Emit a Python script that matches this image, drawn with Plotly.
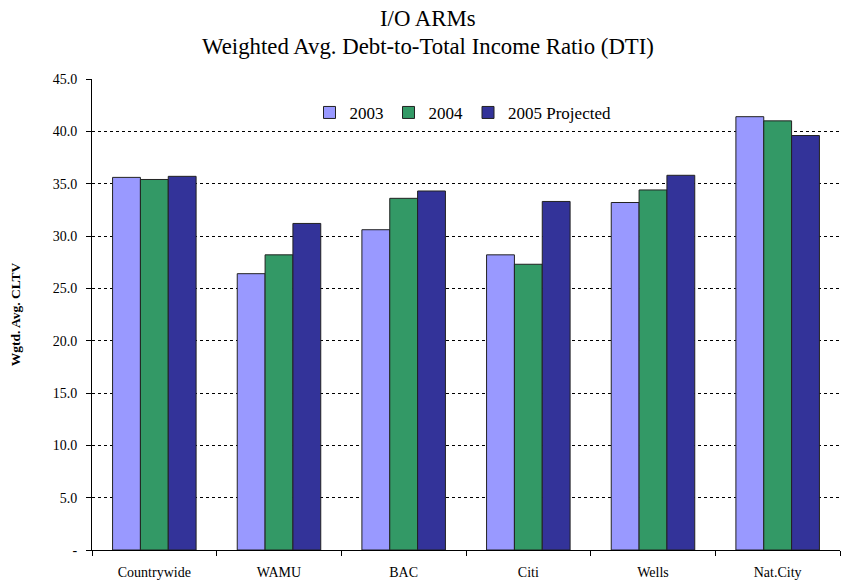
import plotly.graph_objects as go

categories = ["Countrywide", "WAMU", "BAC", "Citi", "Wells", "Nat.City"]
series_names = ["2003", "2004", "2005 Projected"]
values_2003 = [35.6, 26.4, 30.6, 28.2, 33.2, 41.4]
values_2004 = [35.4, 28.2, 33.6, 27.3, 34.4, 41.0]
values_2005 = [35.7, 31.2, 34.3, 33.3, 35.8, 39.6]
colors = ["#9999FF", "#339966", "#333399"]
tick_vals = [0, 5, 10, 15, 20, 25, 30, 35, 40, 45]
tick_text = ["-", "5.0", "10.0", "15.0", "20.0", "25.0", "30.0", "35.0", "40.0", "45.0"]
title_lines = ["I/O ARMs", "Weighted Avg. Debt-to-Total Income Ratio (DTI)"]

FONT = "Liberation Serif, Times New Roman, serif"

fig = go.Figure()
for name, vals, col in zip(series_names, [values_2003, values_2004, values_2005], colors):
    fig.add_trace(go.Bar(
        x=categories, y=vals, name=name,
        marker=dict(color=col, line=dict(color="#222222", width=1)),
    ))

for txt, yy in zip(title_lines, [1.1295, 1.068]):
    fig.add_annotation(
        text=txt, xref="paper", yref="paper", x=0.449, y=yy,
        xanchor="center", yanchor="middle", showarrow=False,
        font=dict(family=FONT, size=22.8, color="black"),
    )

fig.update_layout(
    width=843, height=583,
    paper_bgcolor="white", plot_bgcolor="white",
    margin=dict(l=92, r=3, t=79, b=33, autoexpand=False),
    barmode="group", bargap=0.33, bargroupgap=0,
    font=dict(family=FONT, color="black", size=14),
    legend=dict(
        orientation="h", x=0.496, xanchor="center", y=0.928, yanchor="middle",
        font=dict(family=FONT, size=17, color="black"),
        bgcolor="rgba(0,0,0,0)", traceorder="normal",
    ),
    showlegend=True,
)

fig.update_xaxes(
    type="category", tickson="boundaries", automargin=False,
    showline=True, linecolor="black", linewidth=1,
    ticks="outside", ticklen=5, tickcolor="black",
    showgrid=False, tickfont=dict(family=FONT, size=14),
    ticklabelstandoff=9,
)
fig.update_yaxes(
    range=[0, 45], tickvals=tick_vals, ticktext=tick_text, automargin=False,
    showline=True, linecolor="black", linewidth=1,
    ticks="outside", ticklen=5, tickcolor="black",
    showgrid=True, gridcolor="black", gridwidth=1, griddash="dot",
    zeroline=False,
    tickfont=dict(family=FONT, size=14),
    ticklabelstandoff=6,
    title=dict(text="<b>Wgtd. Avg. CLTV</b>", font=dict(family=FONT, size=13.5), standoff=28),
)

fig.write_html(
    "out.html",
    config={"displayModeBar": False},
    post_script="document.body.style.margin='0';document.body.style.padding='0';",
)
